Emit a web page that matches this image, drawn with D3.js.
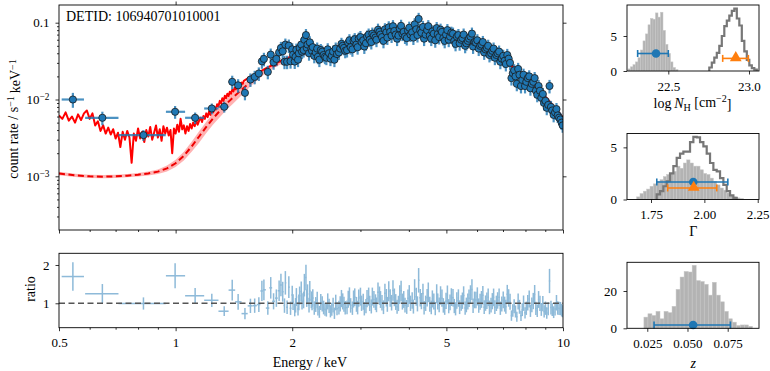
<!DOCTYPE html>
<html>
<head>
<meta charset="utf-8">
<script src="https://cdn.jsdelivr.net/npm/d3@7"></script>
<style>
  body { margin: 0; background: #fff; }
</style>
</head>
<body>
<svg width="770" height="371"></svg>
<script>
// ---------- spectrum: wide low-energy bins ----------
var binE    = [0.543, 0.647, 0.826, 0.997, 1.123, 1.24, 1.335];
var binLo   = [0.508, 0.584, 0.712, 0.944, 1.058, 1.185, 1.29];
var binHi   = [0.580, 0.712, 0.943, 1.058, 1.185, 1.29, 1.37];
var binRate = [0.0100, 0.00578, 0.00344, 0.00692, 0.00578, 0.00764, 0.00804];
var binErr  = [0.22, 0.20, 0.16, 0.19, 0.17, 0.16, 0.16];   // relative

// ---------- spectrum: narrow bins (two interleaved readings of the dense band) ----------
var specE = [1.40,1.45,1.51,1.56,1.60,1.64,1.67,1.69,1.73,1.76,1.79,1.82,1.85,1.87,1.89,1.91,1.92,1.94,1.96,1.98,
  2.01,2.03,2.05,2.07,2.09,2.12,2.15,2.17,2.19,2.22,2.24,2.26,2.30,2.33,2.37,2.41,2.45,2.49,2.53,2.57,
  2.61,2.66,2.70,2.74,2.79,2.83,2.88,2.93,2.97,3.02,3.07,3.12,3.17,3.22,3.28,3.33,3.38,3.44,3.50,3.55,
  3.61,3.67,3.73,3.79,3.85,3.91,3.98,4.04,4.11,4.18,4.24,4.31,4.38,4.46,4.53,4.60,4.68,4.75,4.83,4.91,
  4.99,5.07,5.15,5.24,5.32,5.41,5.50,5.59,5.68,5.77,5.86,5.96,6.06,6.16,6.26,6.36,6.46,6.57,6.67,6.78,
  6.89,7.01,7.12,7.24,7.36,7.48,7.60,7.72,7.85,7.98,8.11,8.24,8.38,8.51,8.65,8.79,8.94,9.08,9.23,9.38,
  9.54,9.69,9.85,9.98];
var specRate = [0.0170,0.0153,0.0122,0.0182,0.0197,0.0218,0.0314,0.0338,0.0229,0.0384,0.0305,0.0338,0.0411,0.0469,0.0424,0.0310,0.0518,0.0310,0.0503,0.0315,
  0.0384,0.0312,0.0445,0.0330,0.0470,0.0420,0.0600,0.0690,0.0520,0.0555,0.0460,0.0480,0.0410,0.0360,0.0440,0.0380,0.0350,0.0400,0.0370,0.0330,
  0.0390,0.0460,0.0500,0.0430,0.0550,0.0480,0.0580,0.0520,0.0620,0.0560,0.0490,0.0660,0.0600,0.0720,0.0640,0.0810,0.0700,0.0580,0.0750,0.0870,
  0.0680,0.0780,0.0620,0.0840,0.0720,0.0660,0.0790,0.0700,0.0640,0.0820,0.1120,0.0740,0.0620,0.0800,0.0680,0.0770,0.0590,0.0710,0.0810,0.0630,
  0.0700,0.0600,0.0740,0.0580,0.0660,0.0540,0.0630,0.0500,0.0580,0.0660,0.0490,0.0550,0.0460,0.0520,0.0410,0.0470,0.0380,0.0430,0.0350,0.0400,
  0.0310,0.0370,0.0290,0.0340,0.0190,0.0240,0.0160,0.0210,0.0180,0.0150,0.0190,0.0140,0.0170,0.0130,0.0150,0.0105,0.0090,0.0078,0.0150,0.0072,
  0.0068,0.0062,0.0055,0.0046];
var specE2 = [2.00,2.04,2.08,2.11,2.14,2.18,2.21,2.25,2.28,2.32,2.35,2.39,2.43,2.47,2.51,2.55,2.59,2.64,2.68,2.72,
  2.77,2.81,2.86,2.90,2.95,3.00,3.05,3.10,3.15,3.20,3.25,3.30,3.36,3.41,3.47,3.52,3.58,3.64,3.70,3.76,
  3.82,3.88,3.95,4.01,4.08,4.14,4.21,4.28,4.35,4.42,4.49,4.57,4.64,4.72,4.79,4.87,4.95,5.03,5.11,5.20,
  5.28,5.37,5.46,5.54,5.63,5.72,5.82,5.91,6.01,6.11,6.21,6.31,6.41,6.52,6.62,6.73,6.84,6.95,7.07,7.18,
  7.30,7.42,7.54,7.66,7.79,7.91,8.04,8.18,8.31,8.45,8.58,8.72,8.87,9.01,9.16,9.31,9.46,9.62,9.77,9.92];
var specRate2 = [0.0450,0.0360,0.0400,0.0520,0.0440,0.0470,0.0400,0.0430,0.0370,0.0460,0.0330,0.0420,0.0360,0.0450,0.0340,0.0420,0.0460,0.0410,0.0530,0.0470,
  0.0440,0.0590,0.0450,0.0610,0.0480,0.0650,0.0590,0.0540,0.0700,0.0560,0.0680,0.0600,0.0760,0.0650,0.0820,0.0640,0.0760,0.0900,0.0700,0.0680,
  0.0910,0.0760,0.0630,0.0860,0.0750,0.0950,0.0690,0.0800,0.0880,0.0700,0.0900,0.0620,0.0720,0.0850,0.0650,0.0760,0.0580,0.0800,0.0660,0.0720,
  0.0530,0.0690,0.0600,0.0700,0.0540,0.0620,0.0720,0.0560,0.0590,0.0500,0.0560,0.0450,0.0500,0.0400,0.0460,0.0380,0.0420,0.0340,0.0320,0.0380,
  0.0300,0.0220,0.0200,0.0250,0.0150,0.0210,0.0170,0.0200,0.0160,0.0190,0.0115,0.0130,0.0118,0.0096,0.0085,0.0080,0.0063,0.0075,0.0058,0.0050];
var specErr = 0.2;   // typical relative error of the narrow bins

// ---------- total model (red solid), noisy background part ----------
var modelLowE = [0.50,0.51,0.52,0.53,0.54,0.55,0.56,0.57,0.58,0.59,0.60,0.61,0.62,0.63,0.64,0.65,0.66,0.67,0.68,0.69,
  0.70,0.71,0.72,0.73,0.74,0.75,0.76,0.77,0.78,0.79,0.80,0.81,0.82,0.83,0.84,0.85,0.86,0.87,0.88,0.89,
  0.90,0.91,0.92,0.93,0.94,0.95,0.96,0.97,0.98,0.99,1.00,1.01,1.02,1.03,1.04,1.05,1.06,1.07,1.08,1.09,
  1.10,1.11,1.12,1.13,1.14,1.15,1.16,1.17,1.18,1.19,1.20,1.21,1.22,1.23,1.24,1.25,1.26,1.27,1.28,1.29,
  1.30,1.31,1.32,1.33,1.34,1.35,1.36,1.37,1.38,1.39,1.40,1.41,1.42,1.43,1.44,1.45,1.46,1.47,1.48,1.49,1.50];
var modelLowRate = [0.0062,0.0056,0.0068,0.0053,0.0060,0.0050,0.0064,0.0054,0.0066,0.0072,0.0056,0.0066,0.0046,0.0052,0.0039,0.0046,0.0036,0.0043,0.0035,0.0041,
  0.0031,0.0037,0.0024,0.0038,0.0030,0.0039,0.0032,0.0015,0.0036,0.0029,0.0042,0.0031,0.0038,0.0028,0.0040,0.0033,0.0044,0.0030,0.0037,0.0046,
  0.0032,0.0041,0.0029,0.0045,0.0036,0.0043,0.0034,0.0040,0.0020,0.0042,0.0036,0.0047,0.0038,0.0056,0.0041,0.0046,0.0036,0.0045,0.0039,0.0048,
  0.0042,0.0050,0.0045,0.0053,0.0047,0.0053,0.0058,0.0051,0.0061,0.0056,0.0066,0.0059,0.0070,0.0063,0.0075,0.0068,0.0080,0.0074,0.0087,0.0081,
  0.0096,0.0089,0.0104,0.0096,0.0112,0.0104,0.0119,0.0111,0.0126,0.0119,0.0134,0.0127,0.0142,0.0135,0.0150,0.0143,0.0158,0.0151,0.0166,0.0160,0.0175];
var modelHighE    = [1.55,1.6,1.7,1.8,1.9,2.0,2.2,2.5,2.8,3.2,3.6,4.0,4.5,5.0,5.5,6.0,6.5,7.0,7.5,8.0,8.5,9.0,9.5,10.0];
var modelHighRate = [0.0195,0.021,0.025,0.029,0.033,0.037,0.042,0.043,0.050,0.061,0.067,0.070,0.070,0.066,0.059,0.050,0.042,0.034,0.026,0.020,0.015,0.011,0.008,0.0058];

// ---------- source model (red dashed) with its band ----------
var srcE = [0.50,0.55,0.60,0.65,0.70,0.75,0.80,0.85,0.90,0.95,1.00,1.05,1.10,1.15,1.20,1.25,1.30,1.35,1.40,1.45,1.50,1.55,1.60,
  1.70,1.80,1.90,2.0,2.2,2.5,2.8,3.2,3.6,4.0,4.5,5.0,5.5,6.0,6.5,7.0,7.5,8.0,8.5,9.0,9.5,10.0];
var srcRate = [0.00109,0.00103,0.00100,0.00099,0.00100,0.00102,0.00105,0.00109,0.00115,0.00127,0.00148,0.00185,0.00245,0.0033,0.0044,0.0057,0.0071,0.0087,0.0104,0.0122,0.0142,0.0163,0.0185,
  0.023,0.0275,0.0315,0.0355,0.041,0.042,0.049,0.060,0.066,0.069,0.069,0.065,0.058,0.049,0.041,0.033,0.0255,0.0195,0.0145,0.0107,0.0078,0.0056];
var srcBand = [0.05,0.05,0.05,0.05,0.05,0.05,0.05,0.06,0.07,0.09,0.11,0.13,0.15,0.17,0.17,0.17,0.17,0.17,0.17,0.16,0.15,0.12,0.10,
  0.06,0.05,0.05,0.05,0.05,0.05,0.05,0.05,0.05,0.05,0.05,0.05,0.05,0.05,0.05,0.05,0.05,0.05,0.05,0.05,0.05,0.05];

// ---------- posterior panels ----------
var nhStart = 22.25, nhWidth = 0.0155;
var nhCounts = [0.3,0.6,0.9,1.3,1.9,3.0,4.3,5.3,6.6,7.5,7.4,8.3,7.7,8.4,5.8,3.8,2.5,1.3,0.5,0.2];
var nhStepStart = 22.754;
var nhStepCounts = [0.5,1.2,1.9,2.6,3.6,5.0,6.4,7.2,7.9,8.6,8.9,7.5,6.5,4.3,2.8,1.6,0.8,0.4,0.2];
var gamStart = 1.6828, gamWidth = 0.015625;
var gamCounts = [0.25,0.57,0.8,1.0,1.27,1.5,1.75,1.9,2.2,2.4,2.5,2.7,3.2,3.0,3.5,3.8,3.5,3.2,3.2,2.85,2.5,2.4,2.05,1.75,1.4,1.1,0.9,0.63,0.38,0.25,0.15,0.1];
var gamStepStart = 1.7766;
var gamStepCounts = [0.5,0.8,1.27,1.75,2.5,3.2,4.0,4.4,4.6,4.6,5.5,6.0,5.95,5.5,5.1,4.4,3.5,2.85,2.7,2.05,1.4,0.8,0.4,0.15];
var zStart = 0.0229, zWidth = 0.0025;
var zCounts = [6,7.8,6.9,9.1,5.1,9.1,8.4,11.8,20.9,27.5,30.5,30.2,33.8,25.6,25.1,23.6,17.8,24.7,17.8,14.2,9.1,5.1,3.3,1.5,1.8,1.8,1.1];
// [value, low, high, height]
var nhBlue  = [22.424, 22.31, 22.50, 2.5],  nhOrange  = [22.918, 22.837, 22.996, 1.8];
var gamBlue = [1.948, 1.777, 2.11, 1.68],   gamOrange = [1.95, 1.828, 2.058, 1.11];
var zBlue   = [0.0535, 0.0292, 0.0767, 1.8];

var blue = "#1f77b4", orange = "#ff7f0e";
var serif = "'Liberation Serif', 'DejaVu Serif', serif";
var svg = d3.select("svg").attr("font-family", serif);

// ---------- scales ----------
var x = d3.scaleLog().domain([0.5, 10]).range([59, 563]);
var yTop = d3.scaleLog().domain([2.0e-4, 0.17]).range([230, 5]);
var yRat = d3.scaleLinear().domain([0.363, 2.305]).range([327.7, 253.3]);

// ---------- derived quantities ----------
var modE = modelLowE.concat(modelHighE), modR = modelLowRate.concat(modelHighRate);
function modelAt(e) {
  var i = d3.bisectLeft(modE, e);
  if (i <= 0) return modR[0];
  if (i >= modE.length) return modR[modE.length - 1];
  var t = Math.log(e / modE[i - 1]) / Math.log(modE[i] / modE[i - 1]);
  return Math.exp(Math.log(modR[i - 1]) + t * (Math.log(modR[i]) - Math.log(modR[i - 1])));
}
function modelMean(lo, hi, e) {
  var v = modR.filter(function(r, i) { return modE[i] >= lo && modE[i] <= hi; });
  return v.length ? d3.mean(v) : modelAt(e);
}

var points = [];
binE.forEach(function(e, i) {
  points.push({e: e, lo: binLo[i], hi: binHi[i], r: binRate[i], err: binErr[i]});
});
var narrow = specE.map(function(e, i) { return {e: e, r: specRate[i]}; })
  .concat(specE2.map(function(e, i) { return {e: e, r: specRate2[i]}; }))
  .sort(function(a, b) { return a.e - b.e; });
narrow.forEach(function(p, i) {
  var prev = i > 0 ? Math.sqrt(narrow[i - 1].e * p.e) : binHi[binHi.length - 1];
  var next = i < narrow.length - 1 ? Math.sqrt(narrow[i + 1].e * p.e) : p.e * p.e / prev;
  points.push({e: p.e, lo: prev, hi: Math.min(next, 10), r: p.r, err: specErr});
});
points.forEach(function(p) {
  var m = modelMean(p.lo, p.hi, p.e);
  p.ratio = p.r / m;
  p.ratioErr = p.r * p.err / m;
});

// ---------- clip paths ----------
var defs = svg.append("defs");
defs.append("clipPath").attr("id", "clipTop").append("rect").attr("x", 59).attr("y", 5).attr("width", 504).attr("height", 225);
defs.append("clipPath").attr("id", "clipRat").append("rect").attr("x", 59).attr("y", 253.3).attr("width", 504).attr("height", 74.4);

// ---------- main panel ----------
var mainG = svg.append("g").attr("clip-path", "url(#clipTop)");

var band = d3.area()
  .x(function(d, i) { return x(srcE[i]); })
  .y0(function(d, i) { return yTop(srcRate[i] * (1 - srcBand[i])); })
  .y1(function(d, i) { return yTop(srcRate[i] * (1 + srcBand[i])); });
mainG.append("path").attr("d", band(srcE)).attr("fill", "#ff0000").attr("opacity", 0.3);

var srcLine = d3.line().x(function(d, i) { return x(srcE[i]); }).y(function(d, i) { return yTop(srcRate[i]); });
mainG.append("path").attr("d", srcLine(srcE)).attr("fill", "none").attr("stroke", "#ee0000")
  .attr("stroke-width", 2).attr("stroke-dasharray", "6,3.5");

var modLine = d3.line().x(function(d, i) { return x(modE[i]); }).y(function(d, i) { return yTop(modR[i]); });
mainG.append("path").attr("d", modLine(modE)).attr("fill", "none").attr("stroke", "#ff0000")
  .attr("stroke-width", 2).attr("stroke-linejoin", "round");

var eb = mainG.append("g").attr("stroke", blue).attr("stroke-width", 2.2).attr("opacity", 0.8);
eb.selectAll(".ey").data(points).enter().append("line")
  .attr("x1", function(d) { return x(d.e); }).attr("x2", function(d) { return x(d.e); })
  .attr("y1", function(d) { return yTop(d.r * (1 + d.err)); })
  .attr("y2", function(d) { return yTop(d.r * (1 - d.err)); });
eb.selectAll(".ex").data(points).enter().append("line")
  .attr("x1", function(d) { return x(d.lo); }).attr("x2", function(d) { return x(d.hi); })
  .attr("y1", function(d) { return yTop(d.r); }).attr("y2", function(d) { return yTop(d.r); });

mainG.append("g").selectAll("circle").data(points).enter().append("circle")
  .attr("cx", function(d) { return x(d.e); }).attr("cy", function(d) { return yTop(d.r); })
  .attr("r", 3.6).attr("fill", blue).attr("stroke", "#1a1a1a").attr("stroke-width", 0.8);

// ---------- ratio panel ----------
var ratG = svg.append("g").attr("clip-path", "url(#clipRat)");
var rb = ratG.append("g").attr("stroke", blue).attr("stroke-width", 1.5).attr("opacity", 0.5);
rb.selectAll(".ry").data(points).enter().append("line")
  .attr("x1", function(d) { return x(d.e); }).attr("x2", function(d) { return x(d.e); })
  .attr("y1", function(d) { return yRat(d.ratio + d.ratioErr); })
  .attr("y2", function(d) { return yRat(d.ratio - d.ratioErr); });
rb.selectAll(".rx").data(points).enter().append("line")
  .attr("x1", function(d) { return x(d.lo); }).attr("x2", function(d) { return x(d.hi); })
  .attr("y1", function(d) { return yRat(d.ratio); }).attr("y2", function(d) { return yRat(d.ratio); });
ratG.append("line").attr("x1", x(0.5)).attr("x2", x(10)).attr("y1", yRat(1)).attr("y2", yRat(1))
  .attr("stroke", "#555").attr("stroke-width", 1.6).attr("stroke-dasharray", "6,3.5");

// ---------- axes helpers ----------
function styleAxis(g) {
  g.attr("font-family", serif).attr("font-size", 13);
  g.select(".domain").remove();
  g.selectAll(".tick line").attr("stroke", "#000").attr("stroke-width", 0.8);
  g.selectAll(".tick text").attr("fill", "#000");
  return g;
}
function frame(x0, y0, w, h) {
  svg.append("rect").attr("x", x0).attr("y", y0).attr("width", w).attr("height", h)
    .attr("fill", "none").attr("stroke", "#000").attr("stroke-width", 0.9);
}
function label(xp, yp, size) {
  return svg.append("text").attr("x", xp).attr("y", yp).attr("font-family", serif)
    .attr("font-size", size).attr("fill", "#000");
}

var majorX = [0.5, 1, 2, 5, 10];
var minorX = [0.6, 0.7, 0.8, 0.9, 3, 4, 6, 7, 8, 9];
var minorY = [];
[-4, -3, -2, -1].forEach(function(p) {
  for (var m = 2; m <= 9; m++) {
    var v = m * Math.pow(10, p);
    if (v > 2.0e-4 && v < 0.17) minorY.push(v);
  }
});

// main panel axes
styleAxis(svg.append("g").attr("transform", "translate(0,230)")
  .call(d3.axisBottom(x).tickValues(minorX).tickSize(2).tickFormat("")));
styleAxis(svg.append("g").attr("transform", "translate(0,230)")
  .call(d3.axisBottom(x).tickValues(majorX).tickSize(3.5).tickFormat("")));
styleAxis(svg.append("g").attr("transform", "translate(0,5)")
  .call(d3.axisTop(x).tickValues([1, 2, 5]).tickSize(3.5).tickFormat("")));
styleAxis(svg.append("g").attr("transform", "translate(563,0)")
  .call(d3.axisRight(yTop).tickValues([1e-3, 1e-2, 1e-1]).tickSize(3.5).tickFormat("")));
styleAxis(svg.append("g").attr("transform", "translate(59,0)")
  .call(d3.axisLeft(yTop).tickValues(minorY).tickSize(2).tickFormat("")));
var gyMain = styleAxis(svg.append("g").attr("transform", "translate(59,0)")
  .call(d3.axisLeft(yTop).tickValues([1e-3, 1e-2, 1e-1]).tickSize(3.5).tickPadding(6)
    .tickFormat(function(d) { return d === 0.1 ? "0.1" : ""; })));
gyMain.selectAll(".tick text").each(function(d) {
  if (d === 0.1) return;
  var t = d3.select(this);
  t.text("10");
  t.append("tspan").attr("dy", "-0.45em").attr("font-size", "0.72em").text("\u2212" + Math.round(-Math.log10(d)));
});

// ratio axes
styleAxis(svg.append("g").attr("transform", "translate(0,327.7)")
  .call(d3.axisBottom(x).tickValues(minorX).tickSize(2).tickFormat("")));
styleAxis(svg.append("g").attr("transform", "translate(0,327.7)")
  .call(d3.axisBottom(x).tickValues(majorX).tickSize(3.5).tickPadding(7)
    .tickFormat(function(d) { return String(d); })));
styleAxis(svg.append("g").attr("transform", "translate(59,0)")
  .call(d3.axisLeft(yRat).tickValues([1, 2]).tickSize(3.5).tickPadding(6).tickFormat(d3.format("d"))));

frame(59, 5, 504, 225);
frame(59, 253.3, 504, 74.4);

// axis titles
var yl = label(0, 0, 14).attr("transform", "translate(13.5,119) rotate(-90)")
  .attr("text-anchor", "middle").attr("dy", "0.35em");
yl.append("tspan").text("count rate / s");
yl.append("tspan").attr("dy", "-0.45em").attr("font-size", "0.72em").text("\u22121");
yl.append("tspan").attr("dy", "0.45em").text("\u2009keV");
yl.append("tspan").attr("dy", "-0.45em").attr("font-size", "0.72em").text("\u22121");

label(0, 0, 14).attr("transform", "translate(30,289) rotate(-90)")
  .attr("text-anchor", "middle").attr("dy", "0.35em").text("ratio");
label(310, 362, 14).attr("text-anchor", "middle").attr("dy", "0.35em").text("Energy / keV");
label(66, 20.5, 14).text("DETID: 106940701010001");

// ---------- posterior panels ----------
function posterior(opt) {
  var px = d3.scaleLinear().domain(opt.xd).range([627, 759]);
  var py = d3.scaleLinear().domain(opt.yd).range([opt.y0 + 66, opt.y0]);
  var g = svg.append("g");

  g.selectAll(".bar").data(opt.counts).enter().append("rect")
    .attr("x", function(d, i) { return px(opt.start + i * opt.width); })
    .attr("width", px(opt.start + opt.width) - px(opt.start))
    .attr("y", function(d) { return py(d); })
    .attr("height", function(d) { return py(0) - py(d); })
    .attr("fill", "#b3b3b3").attr("stroke", "#c8c8c8").attr("stroke-width", 0.5);

  if (opt.step) {
    var pts = [[opt.stepStart, 0]];
    opt.step.forEach(function(c, i) {
      pts.push([opt.stepStart + i * opt.width, c]);
      pts.push([opt.stepStart + (i + 1) * opt.width, c]);
    });
    pts.push([opt.stepStart + opt.step.length * opt.width, 0]);
    g.append("path").attr("d", d3.line().x(function(d) { return px(d[0]); }).y(function(d) { return py(d[1]); })(pts))
      .attr("fill", "none").attr("stroke", "#777").attr("stroke-width", 2.2);
  }

  opt.marks.forEach(function(m) {
    var v = m.v, yy = py(v[3]);
    var me = g.append("g").attr("stroke", m.color).attr("stroke-width", 1.6);
    me.append("line").attr("x1", px(v[1])).attr("x2", px(v[2])).attr("y1", yy).attr("y2", yy);
    me.append("line").attr("x1", px(v[1])).attr("x2", px(v[1])).attr("y1", yy - 3.5).attr("y2", yy + 3.5);
    me.append("line").attr("x1", px(v[2])).attr("x2", px(v[2])).attr("y1", yy - 3.5).attr("y2", yy + 3.5);
    if (m.shape === "circle") {
      g.append("circle").attr("cx", px(v[0])).attr("cy", yy).attr("r", 4.3).attr("fill", m.color);
    } else {
      g.append("path").attr("d", d3.symbol(d3.symbolTriangle, 60)())
        .attr("transform", "translate(" + px(v[0]) + "," + (yy - 0.5) + ")").attr("fill", m.color);
    }
  });

  styleAxis(svg.append("g").attr("transform", "translate(0," + (opt.y0 + 66) + ")")
    .call(d3.axisBottom(px).tickValues(opt.xt).tickSize(3.5).tickPadding(7).tickFormat(d3.format(opt.xf))));
  styleAxis(svg.append("g").attr("transform", "translate(627,0)")
    .call(d3.axisLeft(py).tickValues(opt.yt).tickSize(3.5).tickPadding(6.5).tickFormat(d3.format("d"))));
  frame(627, opt.y0, 132, 66);
}

posterior({xd: [22.244, 23.062], yd: [0, 9.43], y0: 5, start: nhStart, width: nhWidth, counts: nhCounts,
  step: nhStepCounts, stepStart: nhStepStart, xt: [22.5, 23.0], xf: ".1f", yt: [0, 5],
  marks: [{v: nhBlue, color: blue, shape: "circle"}, {v: nhOrange, color: orange, shape: "tri"}]});
posterior({xd: [1.6375, 2.256], yd: [0, 6.33], y0: 133.5, start: gamStart, width: gamWidth, counts: gamCounts,
  step: gamStepCounts, stepStart: gamStepStart, xt: [1.75, 2.0, 2.25], xf: ".2f", yt: [0, 5],
  marks: [{v: gamBlue, color: blue, shape: "circle"}, {v: gamOrange, color: orange, shape: "tri"}]});
posterior({xd: [0.01238, 0.09447], yd: [0, 35.4], y0: 262.3, start: zStart, width: zWidth, counts: zCounts,
  xt: [0.025, 0.05, 0.075], xf: ".3f", yt: [0, 20],
  marks: [{v: zBlue, color: blue, shape: "circle"}]});

// posterior titles
var nh = label(692.5, 103.3, 14).attr("text-anchor", "middle").attr("dy", "0.35em");
nh.append("tspan").text("log\u2009");
nh.append("tspan").attr("font-style", "italic").text("N");
nh.append("tspan").attr("dy", "0.3em").attr("font-size", "0.72em").text("H");
nh.append("tspan").attr("dy", "-0.3em").text(" [cm");
nh.append("tspan").attr("dy", "-0.45em").attr("font-size", "0.72em").text("\u22122");
nh.append("tspan").attr("dy", "0.45em").text("]");
label(693.3, 231, 14).attr("text-anchor", "middle").attr("dy", "0.35em").text("\u0393");
label(693.3, 362.7, 14).attr("text-anchor", "middle").attr("dy", "0.35em").attr("font-style", "italic").text("z");
</script>
</body>
</html>
